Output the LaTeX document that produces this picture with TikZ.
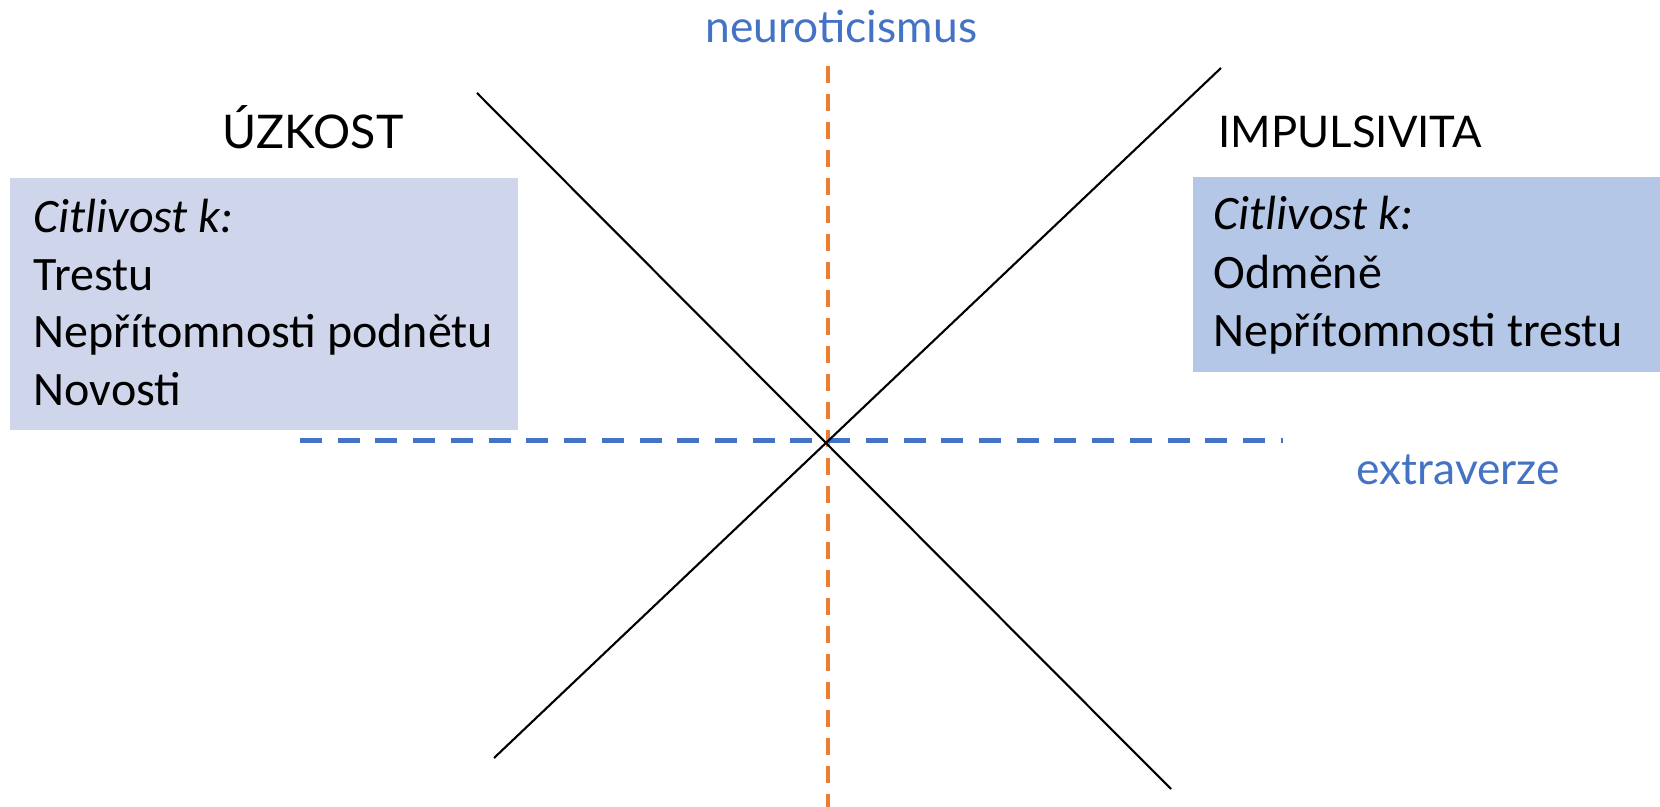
\documentclass[tikz,border=0pt]{standalone}
\usepackage{fontspec}
\setmainfont{Carlito}
\newfontfamily\gillfont{Lato}
\definecolor{axisorange}{HTML}{ED7D31}
\definecolor{axisblue}{HTML}{4472C4}
\definecolor{uzkfill}{HTML}{CFD5EA}
\definecolor{impfill}{HTML}{B4C7E7}
\begin{document}
\begin{tikzpicture}[x=0.01cm, y=-0.01cm,
  neuaxis/.style = {draw=axisorange, line width=0.036cm, dash pattern=on 0.17cm off 0.11cm},
  extaxis/.style = {draw=axisblue, line width=0.05cm, dash pattern=on 0.22cm off 0.157cm},
  diagline/.style = {draw=black, line width=0.6pt},
  axislbl/.style = {text=axisblue, inner sep=0pt, anchor=base west, font=\gillfont\fontsize{12.6pt}{15pt}\selectfont},
  headlbl/.style = {inner sep=0pt, anchor=base west, font=\gillfont\fontsize{13.2pt}{15pt}\selectfont},
  boxlbl/.style = {inner sep=0pt, anchor=base west, font=\fontsize{13.65pt}{15pt}\selectfont}
]
  \useasboundingbox (0,0) rectangle (1660,807);
  % boxes
  \fill[uzkfill] (10,178) rectangle (518,430);
  \fill[impfill] (1193,177) rectangle (1660,372);
  % axes
  \coordinate (neutop) at (828,66);
  \coordinate (neubot) at (828,807);
  \coordinate (extleft) at (300,441);
  \coordinate (extright) at (1283,441);
  \draw[neuaxis] (neutop) -- (neubot);
  \draw[extaxis] (extleft) -- (extright);
  % diagonals
  \coordinate (dga) at (477,93);
  \coordinate (dgb) at (1171,789);
  \coordinate (dgc) at (1221,68);
  \coordinate (dgd) at (494,758);
  \draw[diagline] (dga) -- (dgb);
  \draw[diagline] (dgc) -- (dgd);
  % axis labels
  \node[axislbl] (neulbl) at (705,43) {neuroticismus};
  \node[axislbl] (extlbl) at (1356,485) {extraverze};
  % headings
  \node[headlbl] (uzkhead) at (222,149) {ÚZKOST};
  \node[headlbl, font=\gillfont\fontsize{12.4pt}{15pt}\selectfont] (imphead) at (1218,148) {IMPULSIVITA};
  % left box text
  \node[boxlbl] (uzkcit) at (33,233) {\itshape Citlivost k:};
  \foreach \txt [count=\i] in {Trestu, Nepřítomnosti podnětu, Novosti}
    \node[boxlbl] (uzk\i) at (33,{233+57.5*\i}) {\txt};
  % right box text
  \node[boxlbl] (impcit) at (1213,230) {\itshape Citlivost k:};
  \foreach \txt [count=\i] in {Odměně, Nepřítomnosti trestu}
    \node[boxlbl] (imp\i) at (1213,{230+58.5*\i}) {\txt};
\end{tikzpicture}
\end{document}
